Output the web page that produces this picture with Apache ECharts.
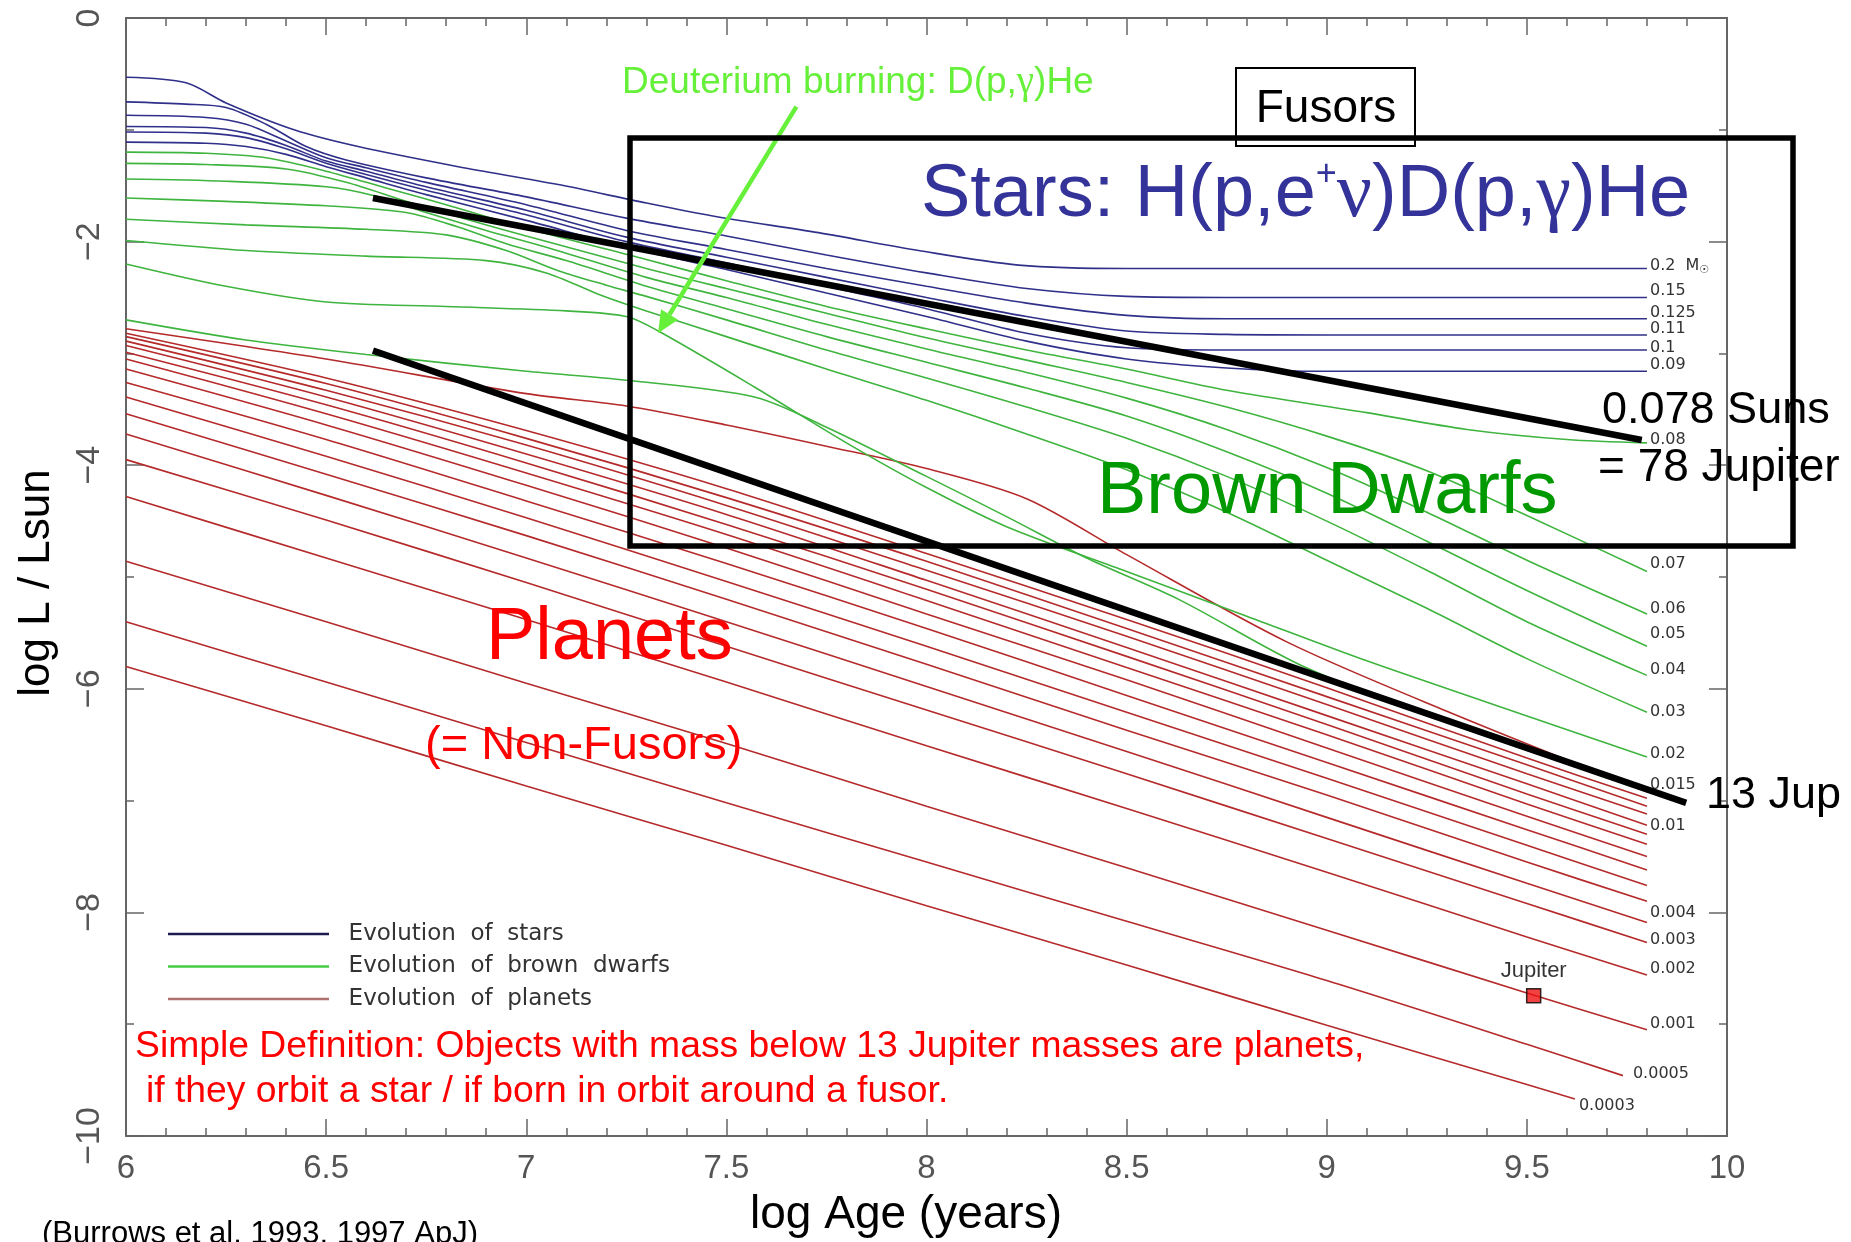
<!DOCTYPE html>
<html><head><meta charset="utf-8">
<script src="https://cdn.jsdelivr.net/npm/echarts/dist/echarts.min.js"></script>
<style>html,body{margin:0;padding:0;background:#fff}#c{width:1851px;height:1242px}</style>
</head><body><div id="c"></div>
<script>
// ---------------- data ----------------
const xTickLabels = ['6','6.5','7','7.5','8','8.5','9','9.5','10'];
const yTickLabels = ['0','\u22122','\u22124','\u22126','\u22128','\u221210'];

const starLabels = ['0.2','0.15','0.125','0.11','0.1','0.09'];
const starTracks = [
 [[6.0,-0.53],[6.15,-0.58],[6.25,-0.76],[6.42,-1.00],[6.58,-1.15],[6.83,-1.33],[7.08,-1.49],[7.3,-1.655],[7.48,-1.78],[7.73,-1.92],[7.98,-2.08],[8.23,-2.21],[8.5,-2.24],[9.8,-2.24]],
 [[6.0,-0.75],[6.15,-0.77],[6.25,-0.80],[6.35,-0.95],[6.45,-1.15],[6.55,-1.27],[6.75,-1.43],[7.0,-1.60],[7.25,-1.79],[7.5,-1.95],[7.75,-2.12],[8.0,-2.28],[8.25,-2.42],[8.5,-2.49],[8.75,-2.50],[9.8,-2.50]],
 [[6.0,-0.87],[6.2,-0.89],[6.3,-0.95],[6.4,-1.10],[6.5,-1.25],[6.6,-1.34],[6.75,-1.47],[7.0,-1.67],[7.25,-1.90],[7.5,-2.07],[7.75,-2.24],[8.0,-2.40],[8.25,-2.55],[8.5,-2.66],[8.75,-2.69],[9.8,-2.69]],
 [[6.0,-0.97],[6.2,-0.98],[6.3,-1.03],[6.4,-1.14],[6.5,-1.28],[6.6,-1.37],[6.75,-1.51],[7.0,-1.72],[7.25,-1.96],[7.5,-2.14],[7.75,-2.32],[8.0,-2.50],[8.25,-2.67],[8.5,-2.80],[8.75,-2.83],[9.0,-2.835],[9.8,-2.835]],
 [[6.0,-1.02],[6.2,-1.03],[6.3,-1.07],[6.4,-1.17],[6.5,-1.30],[6.6,-1.40],[6.75,-1.54],[7.0,-1.76],[7.25,-2.00],[7.5,-2.19],[7.75,-2.40],[8.0,-2.60],[8.25,-2.82],[8.5,-2.95],[8.75,-2.97],[9.8,-2.97]],
 [[6.0,-1.11],[6.2,-1.12],[6.3,-1.15],[6.4,-1.22],[6.5,-1.33],[6.6,-1.43],[6.75,-1.58],[7.0,-1.81],[7.25,-2.05],[7.5,-2.25],[7.75,-2.46],[8.0,-2.67],[8.25,-2.89],[8.5,-3.05],[8.75,-3.13],[9.0,-3.16],[9.8,-3.16]]
];

const dwarfLabels = ['0.08','0.07','0.06','0.05','0.04','0.03','0.02','0.015'];
const dwarfTracks = [
 [[6.0,-1.20],[6.2,-1.21],[6.35,-1.25],[6.5,-1.37],[6.65,-1.52],[6.8,-1.67],[7.0,-1.88],[7.3,-2.16],[7.5,-2.35],[7.75,-2.58],[8.0,-2.78],[8.25,-2.97],[8.5,-3.14],[8.75,-3.33],[9.1,-3.53],[9.35,-3.68],[9.6,-3.77],[9.8,-3.80]],
 [[6.0,-1.30],[6.2,-1.31],[6.4,-1.35],[6.55,-1.47],[6.7,-1.64],[6.85,-1.80],[7.0,-1.95],[7.3,-2.24],[7.5,-2.42],[7.75,-2.64],[8.0,-2.86],[8.25,-3.06],[8.5,-3.26],[8.75,-3.48],[9.0,-3.74],[9.25,-4.05],[9.5,-4.45],[9.8,-4.95]],
 [[6.0,-1.44],[6.25,-1.46],[6.5,-1.51],[6.62,-1.59],[6.75,-1.74],[6.9,-1.90],[7.05,-2.05],[7.3,-2.32],[7.5,-2.50],[7.75,-2.74],[8.0,-2.96],[8.25,-3.17],[8.5,-3.40],[8.75,-3.68],[9.0,-4.02],[9.25,-4.42],[9.5,-4.85],[9.8,-5.33]],
 [[6.0,-1.61],[6.25,-1.64],[6.5,-1.68],[6.7,-1.74],[6.83,-1.87],[6.95,-2.02],[7.1,-2.17],[7.3,-2.40],[7.5,-2.60],[7.75,-2.85],[8.0,-3.08],[8.25,-3.31],[8.5,-3.56],[8.75,-3.88],[9.0,-4.25],[9.25,-4.68],[9.5,-5.12],[9.8,-5.62]],
 [[6.0,-1.80],[6.3,-1.85],[6.6,-1.89],[6.8,-1.94],[6.95,-2.08],[7.08,-2.26],[7.2,-2.39],[7.3,-2.49],[7.5,-2.70],[7.75,-2.97],[8.0,-3.22],[8.25,-3.48],[8.5,-3.76],[8.75,-4.10],[9.0,-4.50],[9.25,-4.94],[9.5,-5.40],[9.8,-5.88]],
 [[6.0,-1.99],[6.3,-2.08],[6.6,-2.13],[6.9,-2.17],[7.05,-2.28],[7.18,-2.47],[7.3,-2.62],[7.5,-2.85],[7.75,-3.14],[8.0,-3.42],[8.25,-3.72],[8.5,-4.04],[8.75,-4.42],[9.0,-4.85],[9.25,-5.28],[9.5,-5.73],[9.8,-6.21]],
 [[6.0,-2.20],[6.25,-2.40],[6.5,-2.54],[6.8,-2.58],[7.1,-2.62],[7.25,-2.67],[7.33,-2.80],[7.57,-3.30],[7.8,-3.80],[8.0,-4.20],[8.2,-4.55],[8.5,-4.95],[8.8,-5.35],[9.1,-5.75],[9.4,-6.12],[9.8,-6.61]],
 [[6.0,-2.70],[6.3,-2.88],[6.6,-3.01],[7.0,-3.16],[7.25,-3.24],[7.57,-3.39],[7.75,-3.66],[8.0,-4.10],[8.2,-4.46],[8.4,-4.83],[8.63,-5.20],[8.93,-5.78],[9.2,-6.17],[9.5,-6.55],[9.8,-6.90]]
];

const planetLabels = ['','','','','0.01','','','','','','','0.004','0.003','0.002','0.001','0.0005','0.0003'];
const planetTracks = [
 [[6.0,-2.78],[6.5,-3.05],[7.0,-3.36],[7.25,-3.47],[7.5,-3.64],[7.75,-3.83],[8.0,-4.03],[8.25,-4.30],[8.5,-4.80],[8.9,-5.58],[9.3,-6.20],[9.8,-6.92]],
 [[6.0,-2.82],[6.5,-3.22],[7.0,-3.69],[7.5,-4.21],[8.0,-4.79],[8.5,-5.38],[9.0,-5.99],[9.5,-6.62],[9.8,-6.98]],
 [[6.0,-2.85],[6.5,-3.27],[7.0,-3.76],[7.5,-4.29],[8.0,-4.86],[8.5,-5.46],[9.0,-6.07],[9.5,-6.68],[9.8,-7.05]],
 [[6.0,-2.89],[6.5,-3.33],[7.0,-3.82],[7.5,-4.36],[8.0,-4.94],[8.5,-5.53],[9.0,-6.14],[9.5,-6.76],[9.8,-7.12]],
 [[6.0,-2.93],[6.5,-3.39],[7.0,-3.90],[7.5,-4.44],[8.0,-5.03],[8.5,-5.63],[9.0,-6.24],[9.5,-6.85],[9.8,-7.22]],
 [[6.0,-2.99],[6.5,-3.46],[7.0,-3.98],[7.5,-4.53],[8.0,-5.11],[8.5,-5.71],[9.0,-6.32],[9.5,-6.94],[9.8,-7.30]],
 [[6.0,-3.05],[6.5,-3.54],[7.0,-4.07],[7.5,-4.62],[8.0,-5.21],[8.5,-5.81],[9.0,-6.41],[9.5,-7.03],[9.8,-7.39]],
 [[6.0,-3.14],[6.5,-3.64],[7.0,-4.18],[7.5,-4.74],[8.0,-5.33],[8.5,-5.92],[9.0,-6.53],[9.5,-7.14],[9.8,-7.50]],
 [[6.0,-3.26],[6.5,-3.77],[7.0,-4.32],[7.5,-4.88],[8.0,-5.46],[8.5,-6.06],[9.0,-6.66],[9.5,-7.26],[9.8,-7.62]],
 [[6.0,-3.39],[6.5,-3.92],[7.0,-4.47],[7.5,-5.04],[8.0,-5.62],[8.5,-6.21],[9.0,-6.80],[9.5,-7.40],[9.8,-7.76]],
 [[6.0,-3.54],[6.5,-4.08],[7.0,-4.63],[7.5,-5.20],[8.0,-5.78],[8.5,-6.37],[9.0,-6.95],[9.5,-7.55],[9.8,-7.90]],
 [[6.0,-3.72],[6.5,-4.27],[7.0,-4.83],[7.5,-5.40],[8.0,-5.98],[8.5,-6.56],[9.0,-7.15],[9.5,-7.74],[9.8,-8.09]],
 [[6.0,-3.95],[6.5,-4.49],[7.0,-5.05],[7.5,-5.62],[8.0,-6.19],[8.5,-6.76],[9.0,-7.34],[9.5,-7.92],[9.8,-8.27]],
 [[6.0,-4.28],[6.5,-4.83],[7.0,-5.38],[7.5,-5.94],[8.0,-6.51],[8.5,-7.07],[9.0,-7.64],[9.5,-8.22],[9.8,-8.56]],
 [[6.0,-4.86],[6.5,-5.40],[7.0,-5.95],[7.5,-6.49],[8.0,-7.05],[8.5,-7.60],[9.0,-8.16],[9.5,-8.72],[9.8,-9.05]],
 [[6.0,-5.40],[6.5,-5.94],[7.0,-6.48],[7.5,-7.02],[8.0,-7.55],[8.5,-8.08],[9.0,-8.61],[9.5,-9.18],[9.74,-9.46]],
 [[6.0,-5.80],[6.5,-6.33],[7.0,-6.87],[7.5,-7.40],[8.0,-7.94],[8.5,-8.47],[9.0,-9.01],[9.5,-9.54],[9.62,-9.67]]
];

const upperBoundary = [[6.617,-1.61],[9.787,-3.775]];
const lowerBoundary = [[6.617,-2.975],[9.898,-7.02]];
const jupiterPoint = [[9.517,-8.745]];

// ---------------- styles ----------------
const starLabelDy  = [-3,-7,-6,-6,-2,-6];
const dwarfLabelDy = [-3,-8,-5,-12,-6,0,-3,-5];
const planetLabelDy = [0,0,0,0,1,0,0,0,0,0,0,-10,-3,-6,-6,-2,7];
const planetLabelDist = [3,3,3,3,3,3,3,3,3,3,3,3,3,3,3,10,4];

const C_STAR = '#30308a', C_DWARF = '#3fb43f', C_PLANET = '#b52a2a';
const LEG = ['Evolution of stars','Evolution of brown dwarfs','Evolution of planets'];

function track(data, name, color, label, dy, dist, rich) {
  const s = {
    type: 'line', name: name, data: data, symbol: 'none', smooth: 0.3,
    lineStyle: {color: color, width: 1.6}, itemStyle: {color: color},
    silent: true, z: 3, emphasis: {disabled: true}
  };
  if (label) {
    s.endLabel = {show: true, formatter: () => label, distance: dist, offset: [0, dy],
      fontSize: 16, fontFamily: 'DejaVu Sans', color: '#333'};
    if (rich) s.endLabel.rich = rich;
  }
  return s;
}

const series = [];
planetTracks.forEach((d, i) => series.push(track(d, LEG[2], C_PLANET, planetLabels[i], planetLabelDy[i], planetLabelDist[i])));
dwarfTracks.forEach((d, i) => series.push(track(d, LEG[1], C_DWARF, dwarfLabels[i], dwarfLabelDy[i], 3)));
starTracks.forEach((d, i) => {
  const lab = i === 0 ? starLabels[0] + '  M{s|\u2609}' : starLabels[i];
  const rich = i === 0 ? {s: {fontSize: 11, fontFamily: 'DejaVu Sans', color: '#333', padding: [9, 0, 0, 0]}} : null;
  series.push(track(d, LEG[0], C_STAR, lab, starLabelDy[i], 3, rich));
});
[upperBoundary, lowerBoundary].forEach(d => series.push({
  type: 'line', name: 'boundary', data: d, symbol: 'none', silent: true, z: 6,
  lineStyle: {color: '#000', width: 6.5}
}));
series.push({
  type: 'scatter', name: 'Jupiter', data: jupiterPoint, symbol: 'rect', symbolSize: 14, z: 7,
  itemStyle: {color: '#ee1111', borderColor: '#000', borderWidth: 1.5},
  label: {show: true, position: 'top', distance: 6, formatter: 'Jupiter', fontSize: 22,
    fontFamily: 'Liberation Sans', color: '#000'}
});

const axisCol = '#666';
function xAx(pos, labels) {
  return {type: 'value', min: 6, max: 10, interval: 0.5, position: pos,
    axisLine: {onZero: false, lineStyle: {color: axisCol, width: 2}},
    axisTick: {inside: true, length: 17, lineStyle: {color: axisCol, width: 1.5}},
    minorTick: {show: true, splitNumber: 5, length: 8, lineStyle: {color: axisCol, width: 1.5}},
    splitLine: {show: false}, minorSplitLine: {show: false},
    axisLabel: {show: labels, margin: 16, fontSize: 33, color: '#555', fontFamily: 'Liberation Sans',
      formatter: v => xTickLabels[Math.round((v - 6) / 0.5)]}};
}
function yAx(pos, labels) {
  return {type: 'value', min: -10, max: 0, interval: 2, position: pos,
    axisLine: {onZero: false, lineStyle: {color: axisCol, width: 2}},
    axisTick: {inside: true, length: 18, lineStyle: {color: axisCol, width: 1.5}},
    minorTick: {show: true, splitNumber: 2, length: 8, lineStyle: {color: axisCol, width: 1.5}},
    splitLine: {show: false}, minorSplitLine: {show: false},
    axisLabel: {show: labels, rotate: 90, margin: 19, fontSize: 34, color: '#555', fontFamily: 'Liberation Sans',
      formatter: v => yTickLabels[Math.round(-v / 2)]}};
}

function txt(x, y, text, size, color, extra) {
  return {type: 'text', x: x, y: y, z: 100, silent: true,
    style: Object.assign({text: text, fontSize: size, fontFamily: 'Liberation Sans', fill: color,
      align: 'left', verticalAlign: 'middle', textAlign: 'left', textVerticalAlign: 'middle'}, extra || {})};
}
const greek = (size, color) => ({fontSize: size, fontFamily: 'Liberation Serif', fill: color, color: color});
const plain = (size, color) => ({fontSize: size, fontFamily: 'Liberation Sans', fill: color, color: color});

const graphic = [
  txt(921, 196, '{a|Stars: H(p,e}{p|+}{g|\u03bd}{a|)D(p,}{g|\u03b3}{a|)He}', 74, '#333399', {rich: {
    a: plain(74, '#333399'), g: greek(78, '#333399'),
    p: Object.assign(plain(36, '#333399'), {verticalAlign: 'top'})}}),
  txt(1097, 493, 'Brown Dwarfs', 74, '#009900'),
  txt(486, 639, 'Planets', 74, '#ff0000'),
  txt(425, 746, '(= Non-Fusors)', 47, '#ff0000'),
  txt(622, 83, '{a|Deuterium burning: D(p,}{g|\u03b3}{a|)He}', 37, '#66f03a', {rich: {
    a: plain(37, '#66f03a'), g: greek(39, '#66f03a')}}),
  txt(1326, 109, 'Fusors', 46, '#000', {align: 'center', textAlign: 'center'}),
  txt(1602, 411, '0.078 Suns', 45, '#000'),
  txt(1598, 468, '= 78 Jupiter', 46, '#000'),
  txt(1706, 796, '13 Jup', 45, '#000'),
  txt(135, 1047, 'Simple Definition: Objects with mass below 13 Jupiter masses are planets,', 37.3, '#ff0000'),
  txt(146, 1092, 'if they orbit a star / if born in orbit around a fusor.', 37.3, '#ff0000'),
  txt(42, 1234, '(Burrows et al. 1993, 1997 ApJ)', 31, '#000'),
  txt(906, 1215, 'log Age (years)', 46, '#000', {align: 'center', textAlign: 'center'}),
  Object.assign(txt(37, 583, 'log L / Lsun', 44, '#000', {align: 'center', textAlign: 'center'}), {rotation: Math.PI / 2}),
  {type: 'rect', z: 101, silent: true, shape: {x: 630, y: 138, width: 1163, height: 408},
    style: {fill: 'none', stroke: '#000', lineWidth: 5.5}},
  {type: 'rect', z: 101, silent: true, shape: {x: 1236, y: 68, width: 179, height: 78},
    style: {fill: 'none', stroke: '#000', lineWidth: 2}},
  {type: 'line', z: 100, silent: true, shape: {x1: 796.4, y1: 106.7, x2: 669.5, y2: 314.5},
    style: {stroke: '#66f03a', lineWidth: 4.5}},
  {type: 'polygon', z: 100, silent: true, shape: {points: [[658, 333.3], [678, 319.7], [661, 309.3]]},
    style: {fill: '#66f03a'}}
];

const chart = echarts.init(document.getElementById('c'), null, {renderer: 'canvas'});
chart.setOption({
  animation: false,
  backgroundColor: '#ffffff',
  grid: {left: 126, right: 124, top: 18, bottom: 106, containLabel: false},
  xAxis: [xAx('bottom', true), xAx('top', false)],
  yAxis: [yAx('left', true), yAx('right', false)],
  legend: {
    data: [
      {name: LEG[0], itemStyle: {color: '#1c1c50'}},
      {name: LEG[1], itemStyle: {color: '#44cc44'}},
      {name: LEG[2], itemStyle: {color: '#b07070'}}
    ],
    orient: 'vertical', left: 163, top: 917, icon: 'rect', itemWidth: 161, itemHeight: 2.5, itemGap: 8.5,
    selectedMode: false,
    formatter: n => '  ' + n.replace(/ /g, '  '),
    textStyle: {fontSize: 23, color: '#333', fontFamily: 'DejaVu Sans', lineHeight: 24}
  },
  series: series,
  graphic: graphic
});
</script></body></html>
